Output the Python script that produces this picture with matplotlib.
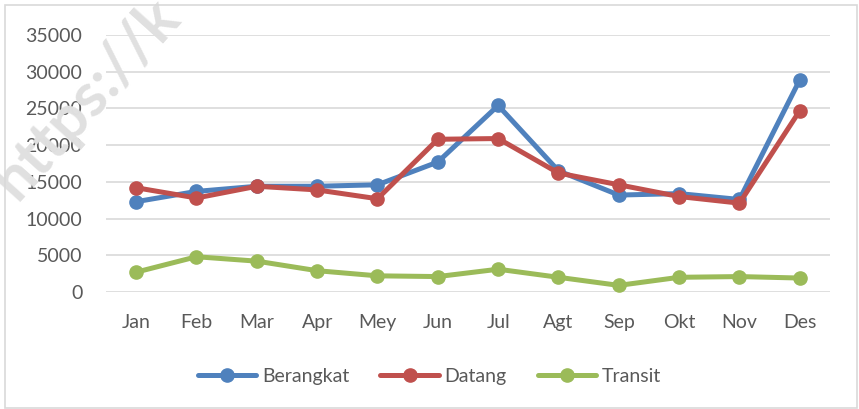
import numpy as np
import matplotlib.pyplot as plt
from matplotlib.patches import Rectangle

months = ['Jan', 'Feb', 'Mar', 'Apr', 'Mey', 'Jun', 'Jul', 'Agt', 'Sep', 'Okt', 'Nov', 'Des']
berangkat = [12300, 13700, 14400, 14400, 14600, 17700, 25400, 16500, 13200, 13400, 12600, 28900]
datang = [14200, 12800, 14400, 13900, 12700, 20800, 20900, 16200, 14600, 13000, 12100, 24700]
transit = [2700, 4800, 4200, 2900, 2200, 2100, 3100, 2000, 900, 2000, 2100, 1900]
yticks = [0, 5000, 10000, 15000, 20000, 25000, 30000, 35000]

plt.rcParams['font.family'] = ['Lato', 'DejaVu Sans']

fig = plt.figure(figsize=(8.59, 4.09), dpi=100)
ax = fig.add_axes([0.1234, 0.2861, 0.8428, 0.6283])

# watermark
fig.text(-0.02, 0.76, 'https://k', rotation=48, fontsize=44, fontweight='bold',
         color='#E0E0E0', ha='left', va='center', zorder=0)

x = np.arange(len(months))
series = [(berangkat, '#4F81BD', 'Berangkat'),
          (datang, '#C0504D', 'Datang'),
          (transit, '#9BBB59', 'Transit')]
for vals, col, lab in series:
    ax.plot(x, vals, color=col, lw=3.6, marker='o', markersize=9.5,
            label=lab, solid_capstyle='round', zorder=3)

ax.set_xlim(-0.5, len(months) - 0.5)
ax.set_ylim(0, 35000)
ax.set_yticks(yticks)
ax.set_yticklabels([str(v) for v in yticks])
ax.set_xticks(x)
ax.set_xticklabels(months)
ax.grid(axis='y', color='#D9D9D9', lw=1.2)
ax.set_axisbelow(True)
for s in ax.spines.values():
    s.set_visible(False)
ax.tick_params(axis='y', length=0, pad=17, labelsize=14, labelcolor='#595959')
ax.tick_params(axis='x', length=0, pad=16, labelsize=14, labelcolor='#595959')
ax.patch.set_alpha(0)

leg = fig.legend(loc='center', bbox_to_anchor=(0.5, 0.08), ncol=3, frameon=False,
                 fontsize=14, handlelength=3.0, handletextpad=0.3, columnspacing=1.6)
for t in leg.get_texts():
    t.set_color('#595959')

fig.patches.append(Rectangle((5 / 859, 0.002), 852 / 859, 1 - 5 / 409 - 0.002,
                             transform=fig.transFigure, fill=False,
                             edgecolor='#D9D9D9', lw=1.2))

plt.savefig('out.png', dpi=100)
